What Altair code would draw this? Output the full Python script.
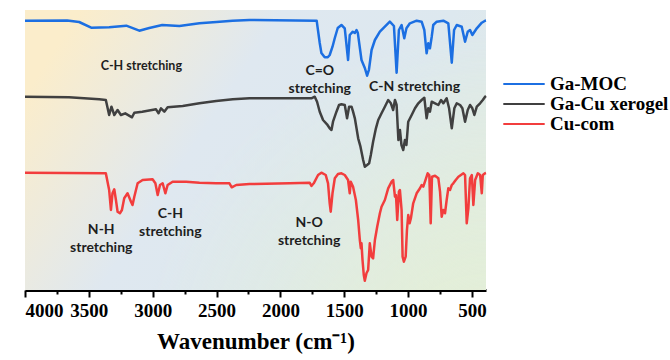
import altair as alt
import pandas as pd

# FTIR spectra: wavenumber (cm-1) and stacked, offset transmittance (arbitrary units)
moc_wn = [4000, 3670, 3576, 3482, 3341, 3207, 3105, 3027, 2925, 2791, 2634, 2501, 2375, 2242,
          1716, 1692, 1679, 1653, 1629, 1614, 1592, 1574, 1551, 1522, 1496, 1470, 1457, 1433,
          1417, 1404, 1394, 1365, 1339, 1321, 1307, 1286, 1260, 1221, 1182, 1143, 1111, 1090,
          1072, 1051, 1030, 1013, 986, 933, 894, 873, 855, 842, 829, 815, 803, 776, 724, 685,
          658, 640, 619, 580, 554, 533, 515, 497, 462, 423, 397, 390]
moc_t = [269.3, 269.5, 268, 262.3, 262.7, 264.3, 259.3, 262, 265, 264, 266.7, 268, 269.3, 270,
         269.3, 247, 237, 232.7, 232.7, 235, 243.3, 252, 262, 265, 261.7, 230, 255, 258.3,
         257, 260, 257.3, 230, 222, 214.3, 220, 240, 250, 258.3, 263.3, 268.3, 264, 217.3,
         260, 265, 251.7, 261.7, 266.7, 269.3, 268.3, 260, 236.7, 246.7, 241.7, 253.3, 265,
         268.3, 269.3, 266.7, 227.3, 260, 265, 263.3, 248.3, 258.3, 260, 255, 261.7, 267.3,
         269.3, 269.5]

xero_wn = [4000, 3655, 3419, 3367, 3341, 3323, 3301, 3275, 3249, 3215, 3162, 3144, 3082, 2974,
           2954, 2935, 2909, 2883, 2765, 2634, 2503, 2373, 2242, 1757, 1731, 1713, 1692, 1666,
           1635, 1614, 1600, 1588, 1561, 1541, 1522, 1496, 1478, 1462, 1443, 1431, 1417, 1404,
           1391, 1373, 1352, 1339, 1321, 1305, 1292, 1274, 1252, 1234, 1208, 1182, 1156, 1135,
           1117, 1103, 1090, 1076, 1064, 1052, 1038, 1025, 1013, 999, 972, 946, 920, 894, 873,
           855, 842, 829, 815, 789, 763, 742, 724, 698, 679, 658, 638, 619, 593, 575, 554, 533,
           515, 497, 481, 462, 436, 415, 397, 390]
xero_t = [193.3, 192.7, 190.7, 190, 175, 183.3, 175, 180, 175, 176.7, 172.7, 177.3, 178.3, 180.7,
          176.7, 181.7, 178.3, 182.7, 184, 186.7, 189, 190.7, 191.7, 191.7, 193.3, 188.3, 178.3,
          170, 165.7, 161.7, 160, 168.3, 178.3, 185, 185.7, 185, 171.7, 183.3, 183.3, 178.3,
          171.7, 161.7, 151.7, 143.3, 130, 123.3, 125, 126.7, 135, 148.3, 161.7, 170, 176.7,
          183.3, 190, 186.7, 180, 190, 185, 150, 160, 145, 140, 150, 145, 168.3, 175, 181.7,
          186.7, 190, 192.3, 171.7, 181.7, 178.3, 188.3, 186.7, 185, 190, 186.7, 191.7, 181.7,
          161.7, 181.7, 186.7, 185, 181.7, 168.3, 180, 185, 181.7, 175, 183.3, 186.7, 190,
          193.3, 194]

cu_wn = [4000, 3367, 3341, 3327, 3315, 3301, 3288, 3275, 3257, 3241, 3223, 3197, 3170, 3158,
         3144, 3118, 3079, 3001, 2979, 2961, 2943, 2922, 2901, 2883, 2844, 2738, 2634, 2503,
         2399, 2381, 2346, 2242, 1928, 1771, 1757, 1739, 1705, 1679, 1645, 1627, 1614, 1606,
         1592, 1574, 1549, 1522, 1496, 1470, 1457, 1449, 1431, 1409, 1391, 1378, 1370, 1365,
         1357, 1347, 1339, 1326, 1313, 1300, 1286, 1274, 1260, 1242, 1221, 1208, 1182, 1156,
         1129, 1117, 1103, 1095, 1085, 1072, 1064, 1051, 1043, 1033, 1019, 1009, 999, 988, 978,
         960, 933, 907, 894, 881, 868, 847, 834, 823, 813, 789, 763, 750, 737, 724, 711, 698,
         685, 672, 658, 646, 627, 606, 567, 554, 541, 528, 515, 501, 489, 475, 454, 436, 423,
         415, 397, 390]
cu_t = [117.3, 116.7, 100, 80, 96.7, 100.7, 90, 78.3, 76.7, 80, 91.7, 96.7, 88.3, 85,
        93.3, 106.7, 110, 110.7, 106.7, 95, 105, 106.7, 96.7, 105, 108.3, 108.3, 107.3, 106.7,
        106.7, 102.7, 105, 106, 106.7, 107.3, 104, 106.7, 115, 117.3, 115, 106.7, 86.7, 78.3,
        96.7, 111.7, 116, 116.7, 115, 110, 96.7, 108.3, 103.3, 90, 70, 50, 41.7, 46.7,
        30, 15, 9.3, 16.7, 20, 46.7, 33.3, 31.7, 50, 63.3, 76.7, 83.3, 90, 101.7,
        108.3, 110, 93.3, 95, 70, 98.3, 100, 80, 33.3, 28.3, 33.3, 60, 75, 66.7, 71.7,
        86.7, 96.7, 101.7, 105, 103.3, 108.3, 116.7, 115, 66.7, 113.3, 114.3, 111.7, 98.3, 73.3,
        80, 76.7, 90, 101.7, 100, 105, 106.7, 110, 113.3, 116.7, 115, 66.7, 81.7, 111.7, 115,
        85, 110, 116.7, 115, 96.7, 115, 116.7, 117]

series = ["Ga-MOC", "Ga-Cu xerogel", "Cu-com"]
colors = ["#1c6fe2", "#404040", "#f23d3d"]

# band assignments: text, wavenumber, offset transmittance, font size
band_text = ["C-H stretching", "C=O\nstretching", "C-N stretching",
             "N-H\nstretching", "C-H\nstretching", "N-O\nstretching"]
band_wn = [3089, 1692, 950, 3403, 2862, 1775]
band_t = [224.3, 219, 203, 60, 76, 67]
band_size = [12.5, 14, 14, 14, 14, 14]

major_ticks = list(range(500, 4001, 500))
minor_ticks = list(range(750, 4000, 500))

W, H = 461, 280
SERIF = "Liberation Serif"

rows = []
for name, wn, tr in zip(series, [moc_wn, xero_wn, cu_wn], [moc_t, xero_t, cu_t]):
    rows += [{"series": name, "wn": w, "t": v} for w, v in zip(wn, tr)]
spectra = pd.DataFrame(rows)
bands = pd.DataFrame({"text": band_text, "wn": band_wn, "t": band_t, "fs": band_size})
minor = pd.DataFrame({"wn": minor_ticks})

x_scale = alt.Scale(domain=[390, 4000], reverse=True, nice=False, zero=False)
y_scale = alt.Scale(domain=[0, 280], nice=False, zero=False)

backdrop = alt.Chart(alt.Data(values=[{}])).mark_rect(
    fill=alt.Gradient(
        gradient="linear", x1=0, y1=0.3, x2=1, y2=0.7,
        stops=[alt.GradientStop(offset=0, color="#fbedcb"),
               alt.GradientStop(offset=0.38, color="#dfe8f0"),
               alt.GradientStop(offset=0.7, color="#dde8ef"),
               alt.GradientStop(offset=1, color="#e0eae6")],
    )
).encode(x=alt.value(0), x2=alt.value(W), y=alt.value(0), y2=alt.value(H))

green_glow = alt.Chart(alt.Data(values=[{}])).mark_rect(
    fill=alt.Gradient(
        gradient="radial", x1=1, y1=1, r1=0, x2=1, y2=1, r2=0.75,
        stops=[alt.GradientStop(offset=0, color="rgba(228,240,212,1)"),
               alt.GradientStop(offset=1, color="rgba(228,240,212,0)")],
    )
).encode(x=alt.value(0), x2=alt.value(W), y=alt.value(0), y2=alt.value(H))

# minor ticks between the labelled ones
minor_axis = alt.Chart(minor).mark_point(opacity=0).encode(
    x=alt.X("wn:Q", scale=x_scale,
            axis=alt.Axis(values=minor_ticks, labels=False, domain=False, grid=False,
                          tickSize=4, tickWidth=2, tickColor="black", title=None,
                          orient="bottom")),
)

lines = alt.Chart(spectra).mark_line(strokeWidth=2.5, strokeJoin="round").encode(
    x=alt.X("wn:Q", scale=x_scale, title="Wavenumber (cm\u207b\u00b9)",
            axis=alt.Axis(values=major_ticks, format="d", grid=False, orient="bottom",
                          tickSize=7, tickWidth=2, tickColor="black",
                          domainColor="black", domainWidth=3,
                          labelFont=SERIF, labelFontWeight="bold", labelFontSize=19,
                          labelColor="black", labelPadding=4, labelOverlap=False,
                          titleFont=SERIF, titleFontWeight="bold", titleFontSize=23,
                          titleColor="black", titlePadding=10)),
    y=alt.Y("t:Q", scale=y_scale, axis=None),
    color=alt.Color("series:N", scale=alt.Scale(domain=series, range=colors),
                    legend=alt.Legend(title=None, orient="none", legendX=489, legendY=64,
                                      symbolType="M-2.3,0L2.3,0", symbolSize=324,
                                      symbolStrokeWidth=2,
                                      labelFont=SERIF, labelFontWeight="bold",
                                      labelFontSize=19, labelColor="black", labelOffset=16,
                                      rowPadding=0, padding=0)),
)

labels = alt.Chart(bands).mark_text(
    font="Lato", fontWeight="bold", color="#1e1e1e", lineBreak="\n",
    align="center", baseline="middle", lineHeight=18,
).encode(
    x=alt.X("wn:Q", scale=x_scale, axis=None),
    y=alt.Y("t:Q", scale=y_scale),
    text="text:N",
    size=alt.Size("fs:Q", scale=None),
)

chart = alt.layer(backdrop, green_glow, minor_axis, lines, labels).resolve_scale(
    x="independent"
).resolve_axis(x="independent").properties(
    width=W, height=H,
    padding={"left": 25, "top": 10, "right": 184, "bottom": 70},
    autosize=alt.AutoSizeParams(type="none"),
    background="white",
).configure_view(stroke=None)

chart.save("out.html", embed_options={"renderer": "svg", "actions": False})
